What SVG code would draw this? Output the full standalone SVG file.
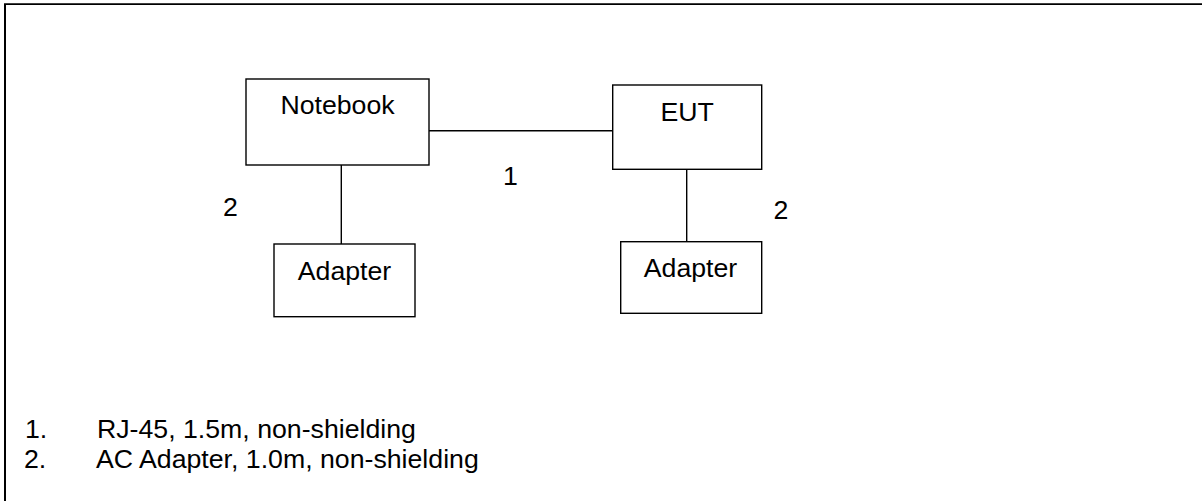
<svg xmlns="http://www.w3.org/2000/svg" width="1202" height="501" viewBox="0 0 1202 501">
<style>
.box{fill:#fff;stroke:#000;stroke-width:1.4}
.ln{stroke:#000;stroke-width:1.4;fill:none}
text{font-family:"Liberation Sans",Arial,sans-serif;font-size:26.7px;fill:#000}
</style>
<rect width="1202" height="501" fill="#fff"/>
<g id="frame">
<line x1="4" y1="4.2" x2="1202" y2="4.2" stroke="#000" stroke-width="1.8"/>
<line x1="5" y1="4" x2="5" y2="501" stroke="#000" stroke-width="2"/>
</g>
<g id="connectors">
<line class="ln" x1="426.7" y1="130.7" x2="612.7" y2="130.7"/>
<line class="ln" x1="341.3" y1="165" x2="341.3" y2="244"/>
<line class="ln" x1="686.7" y1="169.3" x2="686.7" y2="241.7"/>
<text x="503" y="185">1</text>
<text x="223" y="216">2</text>
<text x="773.5" y="219.3">2</text>
</g>
<g id="notebook">
<rect class="box" x="246" y="79" width="183" height="86"/>
<text x="337.5" y="114" text-anchor="middle">Notebook</text>
</g>
<g id="eut">
<rect class="box" x="612.7" y="85" width="149" height="84.3"/>
<text x="687.2" y="121" text-anchor="middle">EUT</text>
</g>
<g id="adapter1">
<rect class="box" x="274" y="244" width="141" height="72.7"/>
<text x="344.5" y="280" text-anchor="middle">Adapter</text>
</g>
<g id="adapter2">
<rect class="box" x="620.7" y="241.7" width="141" height="71.6"/>
<text x="690.5" y="276.7" text-anchor="middle">Adapter</text>
</g>
<g id="legend">
<text x="25" y="438.3">1.</text>
<text x="97" y="438.3">RJ-45, 1.5m, non-shielding</text>
<text x="24" y="468.3">2.</text>
<text x="96" y="468.3">AC Adapter, 1.0m, non-shielding</text>
</g>
</svg>
